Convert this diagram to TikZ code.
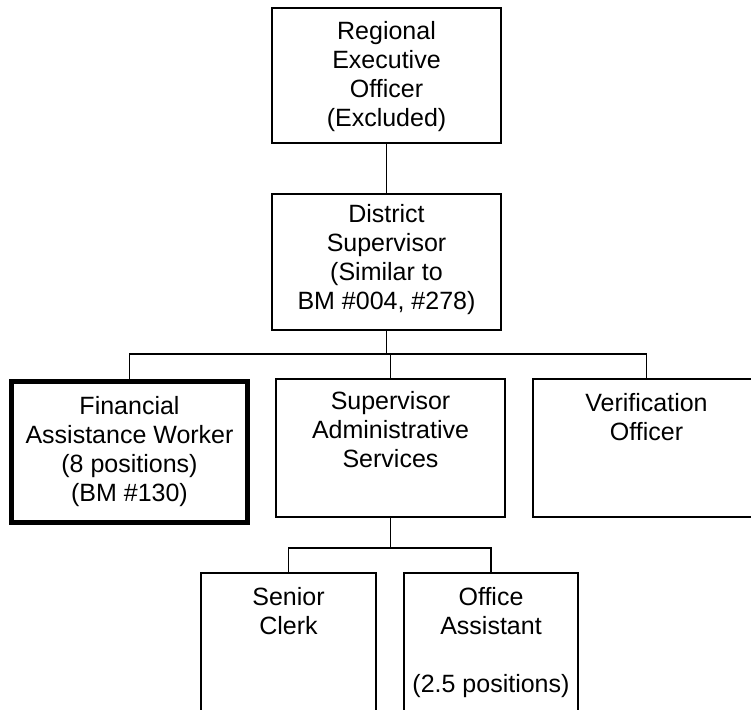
\documentclass[tikz,border=0pt]{standalone}
\usepackage{fontspec}
\setmainfont{Liberation Sans}
\usetikzlibrary{positioning}

\begin{document}
\begin{tikzpicture}[x=0.5pt,y=-0.5pt,
  box/.style={draw,line width=0.9pt,inner sep=0pt},
  lbl/.style={inner sep=0pt,align=center,font=\fontsize{12.5}{14.5}\selectfont},
  link/.style={line width=0.9pt}]
\useasboundingbox (0,0) rectangle (751,709);

\node[box,minimum width=114.5pt,minimum height=67.5pt] (reo) at (386.5,75.5) {};
\node[lbl,below=7pt of reo.north] (reoT) {Regional\\Executive\\Officer\\(Excluded)};

\node[box,minimum width=114.5pt,minimum height=68pt] (ds) at (386.5,262) {};
\node[lbl,below=5.5pt of ds.north] (dsT) {District\\Supervisor\\(Similar to\\BM \#004, \#278)};

\node[box,line width=2.3pt,minimum width=118.2pt,minimum height=70.7pt] (faw) at (129.5,452) {};
\node[lbl,below=8.5pt of faw.north] (fawT) {Financial\\Assistance Worker\\(8 positions)\\(BM \#130)};

\node[box,minimum width=114.5pt,minimum height=69pt] (sas) at (390.5,448) {};
\node[lbl,below=6.5pt of sas.north] (sasT) {Supervisor\\Administrative\\Services};

\node[box,minimum width=130pt,minimum height=69pt] (vo) at (663,448) {};
\node[lbl,anchor=north] (voT) at (646.5,393) {Verification\\Officer};

\node[box,minimum width=87.5pt,minimum height=83.5pt] (sc) at (288.5,656.5) {};
\node[lbl,below=7.5pt of sc.north] (scT) {Senior\\Clerk};

\node[box,minimum width=87pt,minimum height=83.5pt] (oa) at (491,656.5) {};
\node[lbl,below=7.5pt of oa.north] (oaT) {Office\\Assistant\\[14.5pt](2.5 positions)};

\coordinate (bus) at (388,354);
\coordinate (sub) at (390,548);

\draw[link] (reo) -- (ds);
\draw[link] (ds.south) -- (ds.south |- bus);
\draw[link] (faw.north) |- (bus) -| (voT.north |- vo.north);
\draw[link] (sas.north) -- (sas.north |- bus);
\draw[link] (sas.south) -- (sas.south |- sub);
\draw[link] (sc.north) |- (sub) -| (oa.north);
\end{tikzpicture}
\end{document}
